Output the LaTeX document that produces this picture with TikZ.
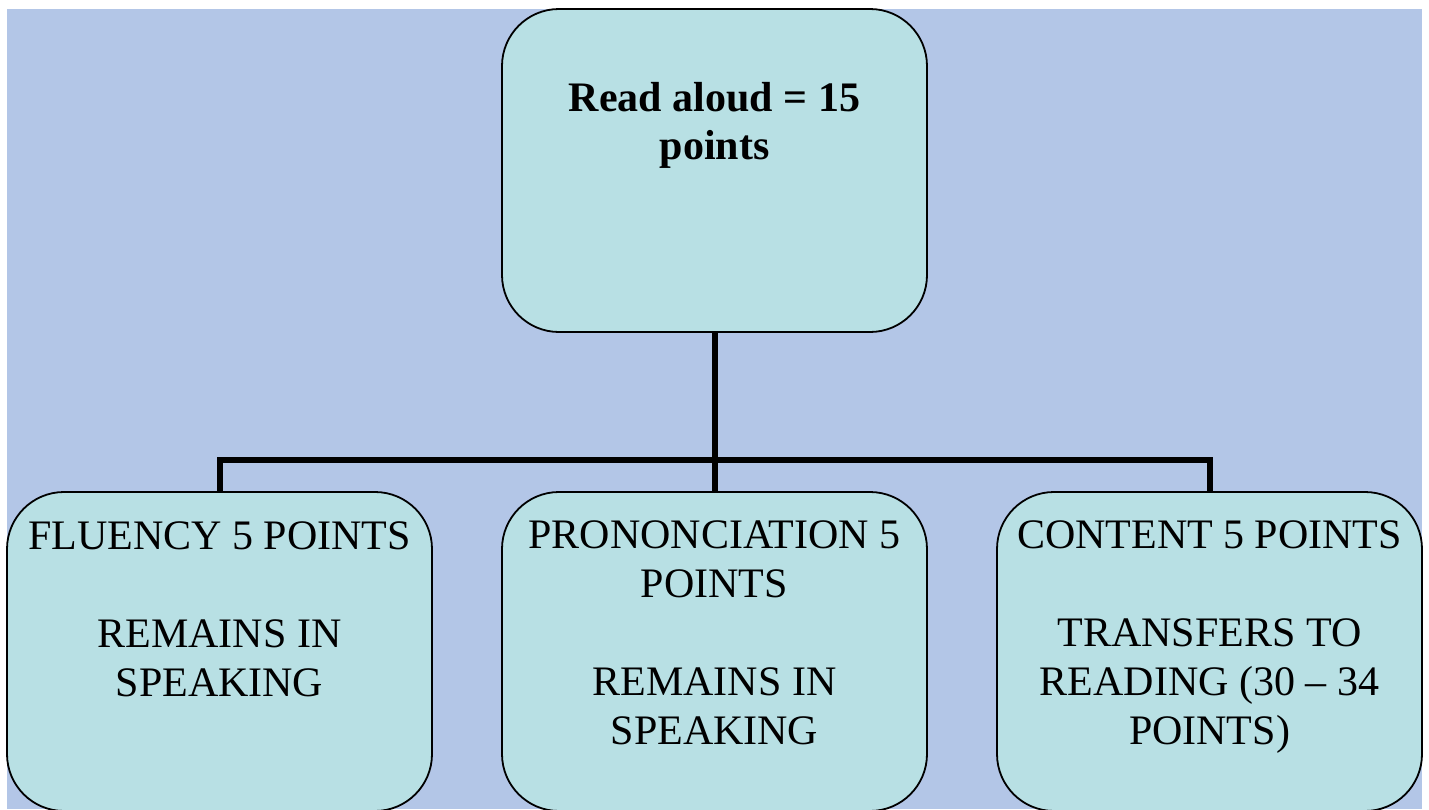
\documentclass[tikz,border=0pt]{standalone}
\usepackage{fontspec}
\setmainfont{Liberation Serif}
\usepackage{tikz}
\usetikzlibrary{positioning}

\definecolor{bgblue}{HTML}{B3C6E7}
\definecolor{boxaqua}{HTML}{B8E0E4}

\begin{document}
\begin{tikzpicture}[x=1pt, y=-1pt,
  box/.style = {draw=black, line width=1.8pt, fill=boxaqua, rounded corners=57pt,
                inner sep=0pt, minimum width=425pt},
  txt/.style = {align=center, inner sep=0pt, font=\fontsize{42}{49}\selectfont, anchor=base},
  link/.style = {line width=6pt, line join=miter}]
\useasboundingbox (0,0) rectangle (1429,809);
\fill[bgblue] (7,9) rectangle (1422,809);

\node[box, minimum height=323pt] (aloud) at (714.5,170.5) {};
\node[box, minimum height=319pt] (fluency) at (219.5,651.5) {};
\node[box, minimum height=319pt] (pron) at (714.5,651.5) {};
\node[box, minimum height=319pt] (content) at (1209.5,651.5) {};

% base anchor sits on the last line
\node[txt, font=\fontsize{42}{48}\selectfont\bfseries] (aloudtxt) at ([yshift=-151pt]aloud.north) {Read aloud = 15\\points};
\node[txt] (fluencytxt) at ([yshift=-205pt]fluency.north) {FLUENCY 5 POINTS\\[49pt]REMAINS IN\\SPEAKING};
\node[txt] (prontxt) at ([yshift=-253pt]pron.north) {PRONONCIATION 5\\POINTS\\[49pt]REMAINS IN\\SPEAKING};
\node[txt] (contenttxt) at ([yshift=-253pt]content.north) {CONTENT 5 POINTS\\[49pt]TRANSFERS TO\\READING (30 \textendash{} 34\\POINTS)};

\coordinate (bus) at (714.5,460);
\draw[link] (aloud.south) -- (bus);
\draw[link] (fluency.north) |- (bus) -| (content.north);
\draw[link] (bus) -- (pron.north);
\end{tikzpicture}
\end{document}
